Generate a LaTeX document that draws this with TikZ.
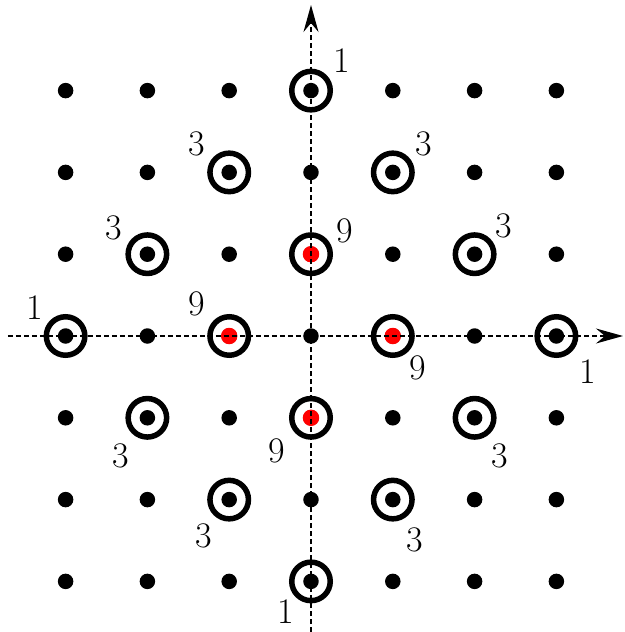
\documentclass[tikz,border=0pt]{standalone}
\usetikzlibrary{arrows.meta,positioning}

\begin{document}
\begin{tikzpicture}[
  x=81.8pt, y=81.8pt,
  site/.style={circle, fill=black, inner sep=0pt, minimum size=15.5pt},
  hot/.style={circle, fill=red, inner sep=0pt, minimum size=16.5pt},
  ring/.style={circle, draw, line width=5.5pt, inner sep=0pt, minimum size=38.5pt},
  axis/.style={dash pattern=on 5pt off 3pt, line width=1.5pt, -{Stealth[length=27pt,width=15pt,inset=9pt]}},
  mult/.style={font=\fontsize{36}{38}\selectfont, inner sep=0pt}
]
\useasboundingbox (-311pt,-296pt) rectangle (313pt,336pt);

% lattice points
\foreach \i in {-3,...,3}
  \foreach \j in {-3,...,3}
    \node[site] (d\i\j) at (\i,\j) {};

% the four nearest neighbours
\foreach \i/\j in {0/1,-1/0,1/0,0/-1}
  \node[hot] (h\i\j) at (\i,\j) {};

% circled points with their multiplicities
\foreach \i/\j/\n/\dx/\dy in {
    0/3/1/31/30, -1/2/3/-32/29, 1/2/3/31/29,
    -2/1/3/-34/26, 0/1/9/34/23, 2/1/3/29/28,
    -3/0/1/-31/28, -1/0/9/-32/32, 1/0/9/25/-32, 3/0/1/31/-36,
    -2/-1/3/-27/-38, 0/-1/9/-34/-33, 2/-1/3/25/-38,
    -1/-2/3/-25/-36, 1/-2/3/22/-40, 0/-3/1/-25/-30}
{
  \node[ring] (r\i\j) at (\i,\j) {};
  \node[mult, xshift=\dx pt, yshift=\dy pt] (m\i\j) at (r\i\j) {\n};
}

% axes
\coordinate (xl) at (-303pt,0);
\coordinate (xr) at (312pt,0);
\coordinate (yb) at (0,-296pt);
\coordinate (yt) at (0,331pt);
\draw[axis] (xl) -- (xr);
\draw[axis] (yb) -- (yt);

\end{tikzpicture}
\end{document}
